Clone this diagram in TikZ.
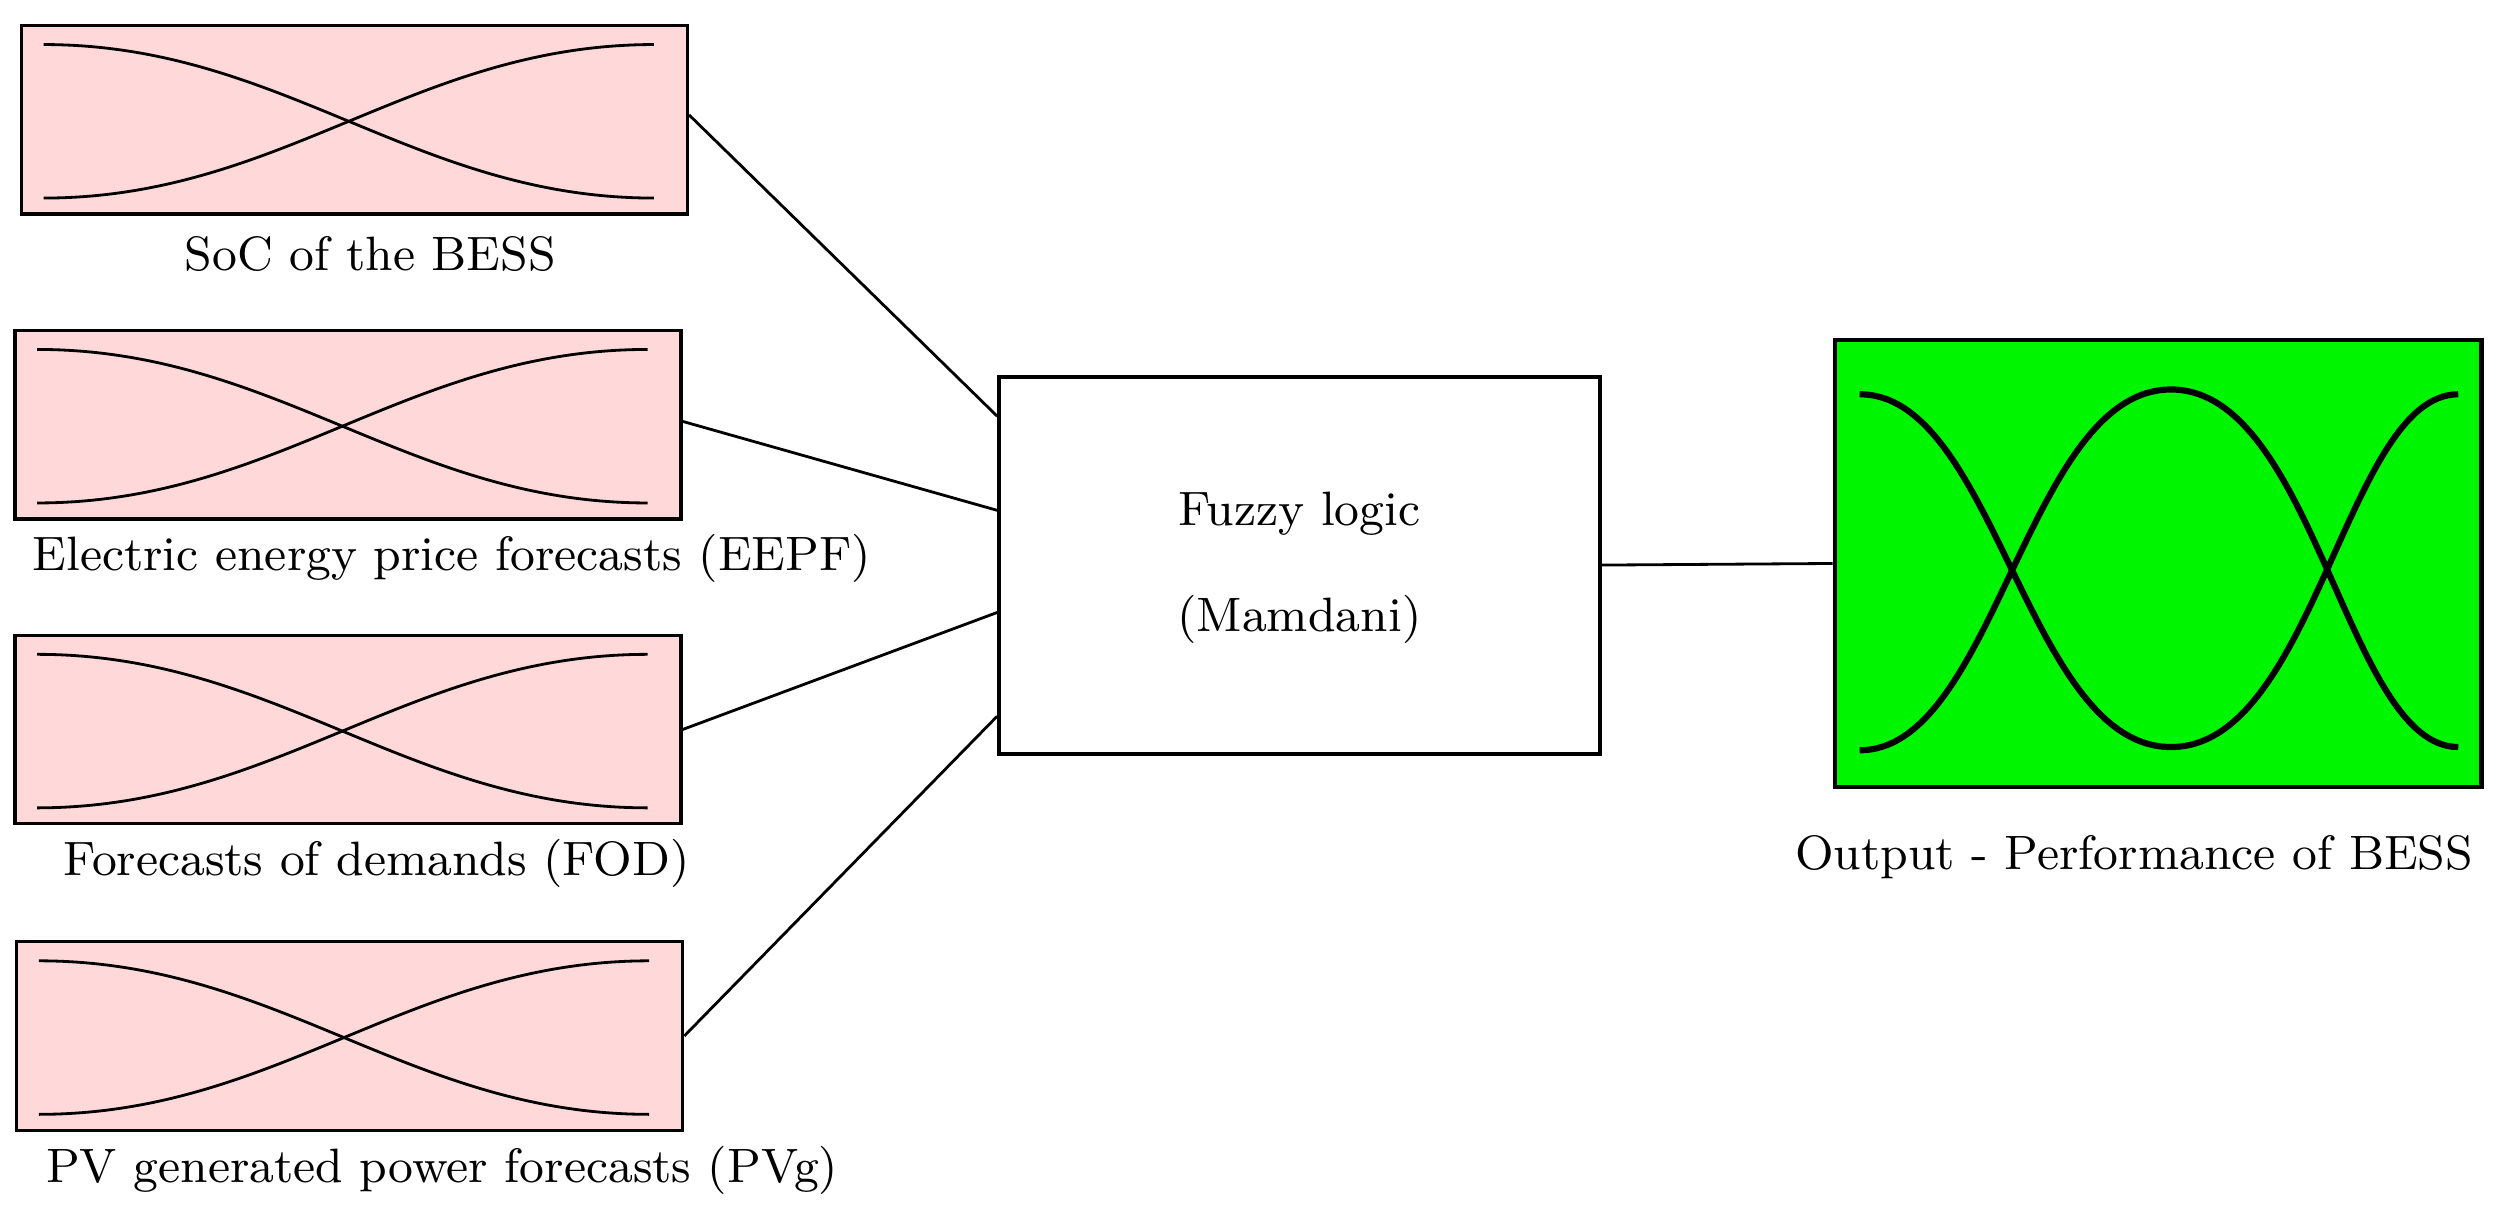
\documentclass[tikz,border=0pt]{standalone}
\usetikzlibrary{calc}
\begin{document}
\begin{tikzpicture}[x=0.01cm,y=-0.01cm,
 inbox/.style={draw,fill=pink!60,minimum width=4.17cm,minimum height=1.18cm,inner sep=0pt,line width=0.6pt},
 lab/.style={font=\fontsize{8.6}{10}\selectfont},
 curve/.style={line width=0.5pt},
 conn/.style={line width=0.5pt}]
\useasboundingbox (0,0) rectangle (1568,764);
\foreach \n/\x/\y/\lx/\t in {1/222/75/232/SoC of the BESS, 2/218/266/283/Electric energy price forecasts (EEPF), 3/218/457/236/Forecasts of demands (FOD), 4/219/649/277/PV generated power forecasts (PVg)}{
  \node[inbox] (b\n) at (\x,\y) {};
  \draw[curve] ($(b\n.north west)+(15,13)$) .. controls +(150,0) and +(-150,0) .. ($(b\n.south east)+(-22,-11)$);
  \draw[curve] ($(b\n.south west)+(15,-11)$) .. controls +(150,0) and +(-150,0) .. ($(b\n.north east)+(-22,13)$);
  \node[lab] (l\n) at (\lx,\y+84) {\t};
}
\node[draw,line width=0.7pt,minimum width=3.76cm,minimum height=2.36cm,inner sep=0pt] (fz) at (814,354) {};
\node[lab] (t1) at (814,322) {Fuzzy logic};
\node[lab] (t2) at (814,388) {(Mamdani)};
\node[draw,line width=0.8pt,fill={rgb,255:red,0;green,245;blue,0},minimum width=4.05cm,minimum height=2.8cm,inner sep=0pt] (out) at (1352,353) {};
\node[lab] (lo) at (1337,537) {Output - Performance of BESS};
\draw[line width=1.1pt] (1165,247) .. controls (1250,247) and (1270,468) .. (1360,468) .. controls (1450,468) and (1470,247) .. (1540,247);
\draw[line width=1.1pt] (1165,470) .. controls (1250,470) and (1270,244) .. (1360,244) .. controls (1450,244) and (1470,468) .. (1540,468);
\draw[conn] ($(b1.east)+(0,-3)$) -- ($(fz.north west)+(0,26)$);
\draw[conn] ($(b2.east)+(0,-2)$) -- ($(fz.north west)+(0,85)$);
\draw[conn] (b3.east) -- ($(fz.north west)+(0,149)$);
\draw[conn] (b4.east) -- ($(fz.north west)+(0,214)$);
\draw[conn] (fz.east) -- (out.west);
\end{tikzpicture}
\end{document}
